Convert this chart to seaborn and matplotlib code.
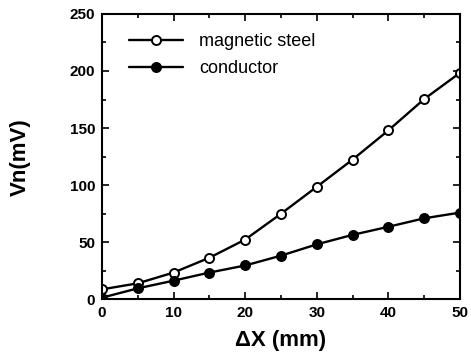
import matplotlib
matplotlib.use("Agg")
import matplotlib.pyplot as plt
import seaborn as sns
import pandas as pd
from matplotlib.ticker import MultipleLocator

dx = [0, 5, 10, 15, 20, 25, 30, 35, 40, 45, 50]
steel = [8.8, 14.1, 23.5, 36.5, 52.4, 75, 98.6, 122.4, 148, 175.4, 198.4]
conductor = [1.5, 9.7, 16.4, 23.5, 29.7, 38.3, 48.2, 56.5, 63.6, 71, 76]
labels = ["magnetic steel", "conductor"]

sns.set_theme(style="ticks")
plt.rcParams['font.family'] = ['Liberation Sans', 'DejaVu Sans']
plt.rcParams['text.color'] = 'black'
plt.rcParams['axes.labelcolor'] = 'black'
plt.rcParams['xtick.color'] = 'black'
plt.rcParams['ytick.color'] = 'black'

df = pd.DataFrame({
    "dx": dx * 2,
    "v": steel + conductor,
    "series": [labels[0]] * len(dx) + [labels[1]] * len(dx),
})

fig = plt.figure(figsize=(4.71, 3.56), dpi=100)
ax = fig.add_axes([0.2166, 0.159, 0.76, 0.802])

sns.lineplot(data=df[df.series == labels[0]], x="dx", y="v", ax=ax, color="black",
             marker="o", markerfacecolor="white", markeredgecolor="black",
             markersize=6.5, markeredgewidth=1.4, linewidth=1.7, label=labels[0])
sns.lineplot(data=df[df.series == labels[1]], x="dx", y="v", ax=ax, color="black",
             marker="o", markerfacecolor="black", markeredgecolor="black",
             markersize=6.5, markeredgewidth=1.4, linewidth=1.7, label=labels[1])

ax.set_xlim(0, 50)
ax.set_ylim(0, 250)
ax.xaxis.set_major_locator(MultipleLocator(10))
ax.xaxis.set_minor_locator(MultipleLocator(5))
ax.yaxis.set_major_locator(MultipleLocator(50))
ax.yaxis.set_minor_locator(MultipleLocator(25))
ax.tick_params(which="both", direction="in", top=True, right=True, width=1.2,
               labelsize=11, pad=5, colors="black")
ax.tick_params(which="major", length=5)
ax.tick_params(which="minor", length=3)
for lab in ax.get_xticklabels() + ax.get_yticklabels():
    lab.set_fontweight("bold")
for s in ax.spines.values():
    s.set_linewidth(1.5)
    s.set_color("black")

ax.set_xlabel("ΔX (mm)", fontsize=16, fontweight="bold", labelpad=7, color="black")
ax.set_ylabel("Vn(mV)", fontsize=16, fontweight="bold", labelpad=28, color="black")

leg = ax.legend(loc="upper left", frameon=False, fontsize=13,
                handlelength=3.0, bbox_to_anchor=(0.03, 0.99), labelspacing=0.55,
                handletextpad=0.9)
for t in leg.get_texts():
    t.set_color("black")

fig.savefig("out.png", dpi=100)
